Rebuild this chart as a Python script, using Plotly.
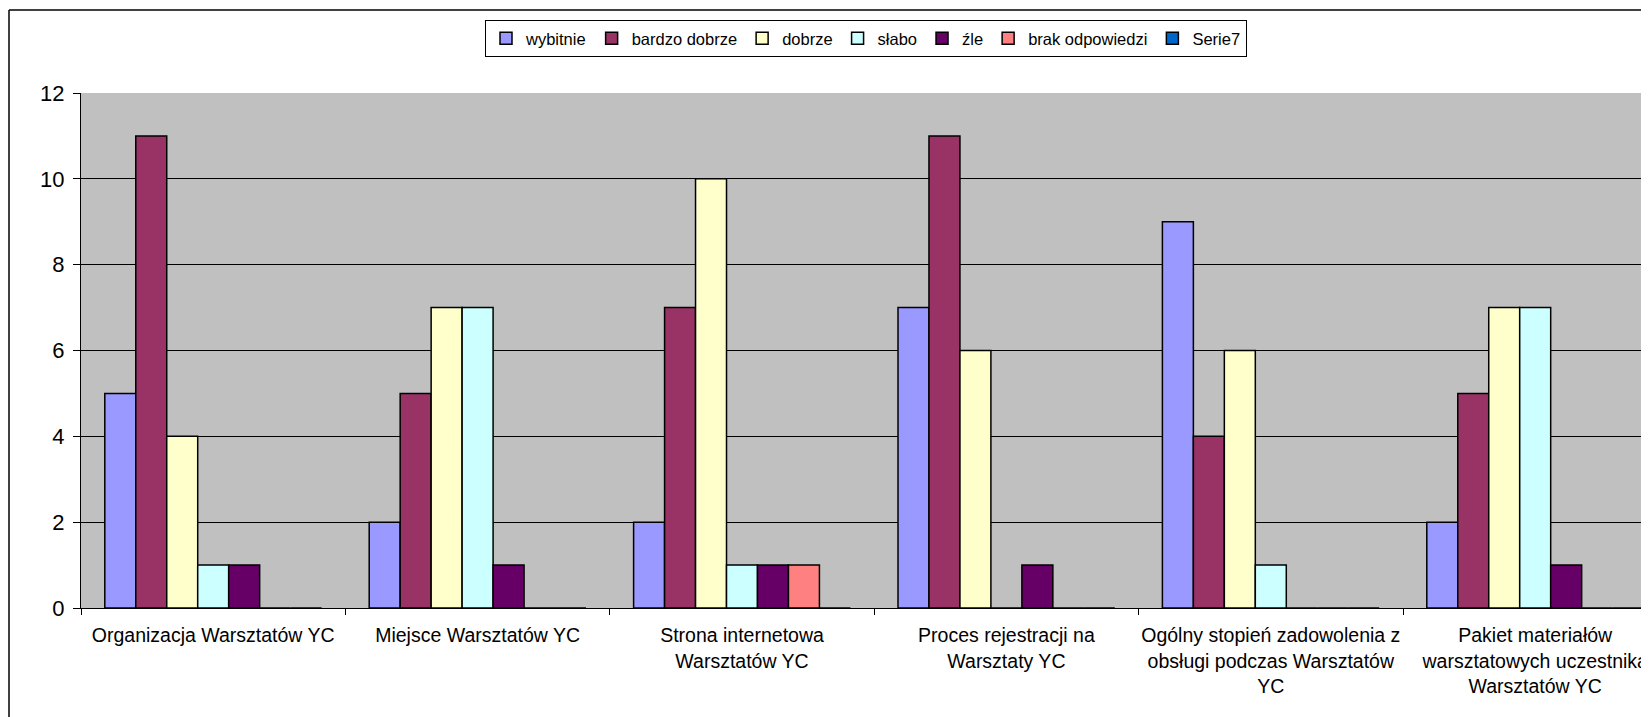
import plotly.graph_objects as go

categories = [
    "Organizacja Warsztatów YC",
    "Miejsce Warsztatów YC",
    "Strona internetowa<br>Warsztatów YC",
    "Proces rejestracji na<br>Warsztaty YC",
    "Ogólny stopień zadowolenia z<br>obsługi podczas Warsztatów<br>YC",
    "Pakiet materiałów<br>warsztatowych uczestnika<br>Warsztatów YC",
]
series_names = ["wybitnie", "bardzo dobrze", "dobrze", "słabo", "źle", "brak odpowiedzi", "Serie7"]
wybitnie = [5, 2, 2, 7, 9, 2]
bardzo_dobrze = [11, 5, 7, 11, 4, 5]
dobrze = [4, 7, 10, 6, 6, 7]
slabo = [1, 7, 1, 0, 1, 7]
zle = [1, 1, 1, 1, 0, 1]
brak_odpowiedzi = [0, 0, 1, 0, 0, 0]
serie7 = [0, 0, 0, 0, 0, 0]
y_ticks = [0, 2, 4, 6, 8, 10, 12]

series_values = [wybitnie, bardzo_dobrze, dobrze, slabo, zle, brak_odpowiedzi, serie7]
colors = ["#9999FF", "#993366", "#FFFFCC", "#CCFFFF", "#660066", "#FF8080", "#0066CC"]

fig = go.Figure()
for name, vals, col in zip(series_names, series_values, colors):
    fig.add_trace(go.Bar(
        x=categories, y=vals, name=name,
        marker=dict(color=col, line=dict(color="black", width=1.5)),
    ))

# page has an 8px body margin; figure coordinates = page coordinates - 8
OFF = 8
W, H = 1649 - OFF, 717 - OFF
ml = 81 - OFF
mt = 93 - OFF
bottom_page = 607.7
mb = H - (bottom_page - OFF)
plot_w = W - ml
plot_h = H - mt - mb
cat_w = 264.4
x_hi = -0.5 + plot_w / cat_w

def px_to_paper_x(px):
    return (px - OFF - ml) / plot_w

def px_to_paper_y(py):
    return (bottom_page - py) / plot_h

fig.update_layout(
    width=W, height=H,
    margin=dict(l=ml, r=0, t=mt, b=mb, pad=0, autoexpand=False),
    paper_bgcolor="white",
    plot_bgcolor="#C0C0C0",
    barmode="group",
    bargap=0.18,
    bargroupgap=0,
    font=dict(family="Liberation Sans, Arial, sans-serif", color="black"),
    showlegend=True,
    legend=dict(
        orientation="h",
        x=px_to_paper_x(866), xanchor="center",
        y=px_to_paper_y(20), yanchor="top",
        bordercolor="black", borderwidth=1,
        bgcolor="white",
        font=dict(size=16.5, color="black"),
        itemwidth=30,
        tracegroupgap=0,
        traceorder="normal",
    ),
    xaxis=dict(
        range=[-0.5, x_hi],
        showgrid=False,
        showline=True, linecolor="black", linewidth=1,
        ticks="outside", tickson="boundaries", ticklen=6, tickcolor="black",
        tickfont=dict(size=19.5, color="black"),
        tickangle=0,
        ticklabelstandoff=10,
        automargin=False,
        fixedrange=True,
    ),
    yaxis=dict(
        range=[0, 12],
        tickvals=y_ticks,
        showgrid=True, gridcolor="black", gridwidth=1,
        showline=True, linecolor="black", linewidth=1,
        zeroline=False,
        ticks="outside", ticklen=7, tickcolor="black",
        tickfont=dict(size=22, color="black"),
        ticklabelstandoff=4,
        automargin=False,
        fixedrange=True,
    ),
    shapes=[
        dict(type="line", xref="paper", yref="paper",
             x0=px_to_paper_x(9), x1=px_to_paper_x(9),
             y0=px_to_paper_y(725), y1=px_to_paper_y(10),
             line=dict(color="black", width=1.5)),
        dict(type="line", xref="paper", yref="paper",
             x0=px_to_paper_x(9), x1=px_to_paper_x(1660),
             y0=px_to_paper_y(10), y1=px_to_paper_y(10),
             line=dict(color="black", width=1.5)),
    ],
)

fig.write_html("out.html")
